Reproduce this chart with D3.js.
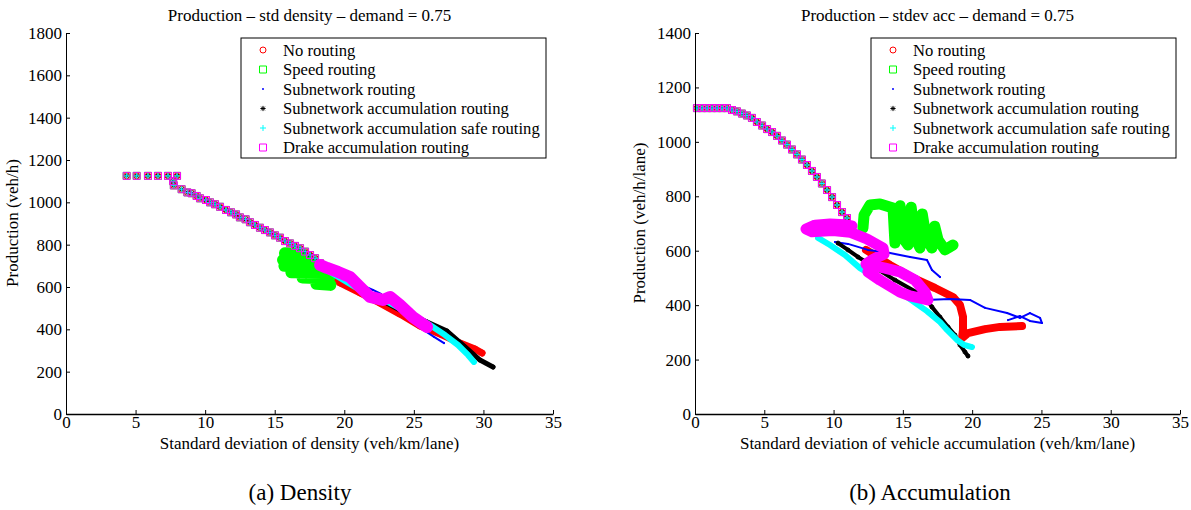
<!DOCTYPE html>
<html>
<head>
<meta charset="utf-8">
<script src="https://cdn.jsdelivr.net/npm/d3@7"></script>
<style>
body { margin: 0; background: #fff; }
</style>
</head>
<body>
<div id="chart"></div>
<script>
var seriesNames = ["No routing", "Speed routing", "Subnetwork routing",
    "Subnetwork accumulation routing", "Subnetwork accumulation safe routing",
    "Drake accumulation routing"];
var xTicks = [0, 5, 10, 15, 20, 25, 30, 35];
var denYTicks = [0, 200, 400, 600, 800, 1000, 1200, 1400, 1600, 1800];
var accYTicks = [0, 200, 400, 600, 800, 1000, 1200, 1400];

// (a) density: free-flow branch shared by every run
var denCommon = [[4.36,1125],[5.08,1125],[5.89,1125],[6.61,1125],[7.33,1125],[7.98,1125],
    [7.7,1100],[7.75,1080],[8.31,1062],[8.72,1047],[9.03,1043],[9.39,1030],[9.63,1019],
    [10.06,1011],[10.35,1000],[10.71,991],[11.07,979],[11.5,964],[11.86,953],[12.22,943],
    [12.5,929],[12.91,920],[13.22,906],[13.58,893],[13.94,880],[14.3,869],[14.66,858],
    [15.02,844],[15.38,833],[15.74,817],[16.1,806],[16.46,794],[16.82,783],[17.18,767],
    [17.54,751],[17.9,736],[18.26,712]];
var denNo = [[18.26,690],[19.69,619],[21.13,572],[22.57,524],[24.0,472],[25.44,416],
    [26.88,378],[28.32,335],[29.39,307],[29.9,288]];
var denSpeed = [[15.74,760],[16.9,752],[15.6,728],[17.3,725],[15.7,700],[17.9,700],
    [16.2,670],[18.6,668],[17.0,645],[18.9,640],[18.0,615],[19.0,610]];
var denSub = [[21.56,600],[22.06,586],[22.64,567],null,[25.8,392],[26.45,364],[27.17,335]];
var denSubAcc = [[18.97,671],[21.13,591],[24.0,491],[25.95,435],[27.38,392],[28.68,317],
    [29.75,255],[30.69,222]];
var denSafe = [[18.97,671],[21.13,586],[23.29,524],[25.3,454],[26.16,420],[27.24,373],
    [28.17,326],[28.89,279],[29.32,246]];
var denDrake = [[18.26,704],[18.76,690],[19.55,671],[20.41,647],[21.13,600],[21.85,553],
    [22.78,539],[23.29,553],[24.0,515],[24.94,458],[25.95,411]];

// (b) accumulation
var accCommon = [[0.14,1124],[0.51,1124],[0.87,1124],[1.23,1124],[1.59,1124],[1.95,1124],
    [2.31,1124],[2.67,1117],[3.03,1112],[3.39,1104],[3.75,1097],[4.11,1088],[4.47,1073],
    [4.84,1060],[5.2,1047],[5.56,1036],[5.92,1022],[6.28,1005],[6.64,990],[7.0,972],
    [7.36,954],[7.72,935],[8.08,915],[8.44,893],[8.8,871],[9.16,847],[9.53,823],[9.89,797],
    [10.25,768],[10.61,742],[10.97,720],[11.33,691]];
var accNo = [[12.34,603],[14.07,548],[15.73,500],[17.32,463],[18.62,430],[19.12,401],
    [19.34,357],[19.34,309],[19.27,279],[19.7,297],[20.93,312],[22.01,320],[23.6,323]];
var accSpeed = [[12.12,683],[12.2,731],[12.63,768],[13.35,772],[14.29,757],[14.43,628],
    [14.8,765],[15.1,640],[15.37,621],[15.6,760],[15.88,650],[16.24,610],[16.4,735],
    [16.67,650],[17.1,610],[17.3,690],[17.54,640],[18.04,603],[18.62,621]];
var accSub = [[10.1,632],[11.04,625],[12.48,603],[13.71,595],[15.52,577],[16.74,566],
    [17.1,529],[17.68,503],null,[16.6,419],[18.4,423],[19.84,419],[20.93,390],[22.52,371],
    [23.45,353],[24.17,371],[24.9,353],[25.04,334],[24.17,342],[23.45,360],[22.59,345]];
var accSubAcc = [[10.32,628],[11.04,603],[11.76,577],[12.34,559],[14.43,492],[16.6,430],
    [17.1,393],[17.68,356],[18.26,320],[18.76,290],[19.12,254],[19.48,228],[19.7,213]];
var accSafe = [[8.88,647],[9.74,621],[10.82,584],[11.91,536],[13.35,492],[14.79,448],
    [16.74,378],[17.68,338],[18.19,309],[18.91,272],[19.41,254],[19.99,246]];
var accDrake = [[11.33,691],[10.82,695],[9.74,698],[8.66,694],[8.01,680],[8.44,670],
    [9.96,674],[11.19,668],[12.41,643],[13.57,610],[13.64,588],[12.77,566],[12.34,551],
    [13.71,536],[14.79,522],[15.88,492],[16.6,448],[16.81,419],[15.52,434],[14.79,448],
    [13.35,492],[12.48,522]];

var colors = ["#ff0000", "#00ff00", "#0000ff", "#000000", "#00ffff", "#ff00ff"];
var markers = ["o", "s", ".", "*", "+", "s"];
var serif = "'Liberation Serif', 'Times New Roman', Times, serif";

var svg = d3.select("#chart").append("svg")
    .attr("width", 1191)
    .attr("height", 510)
    .style("font-family", serif);

function markerPath(type) {
    var s;
    if (type == "s") { s = 3.5; return "M" + -s + "," + -s + "H" + s + "V" + s + "H" + -s + "Z"; }
    if (type == "+") { s = 3; return "M" + -s + ",0H" + s + "M0," + -s + "V" + s; }
    if (type == "*") {
        s = 2.6; var d = s * 0.7;
        return "M" + -s + ",0H" + s + "M0," + -s + "V" + s +
            "M" + -d + "," + -d + "L" + d + "," + d + "M" + -d + "," + d + "L" + d + "," + -d;
    }
    return null;
}

function drawMarker(g, type, color, px, py) {
    if (type == "o") {
        g.append("circle").attr("cx", px).attr("cy", py).attr("r", 3)
            .attr("fill", "none").attr("stroke", color).attr("stroke-width", 1);
    } else if (type == ".") {
        g.append("circle").attr("cx", px).attr("cy", py).attr("r", 1)
            .attr("fill", color);
    } else {
        g.append("path").attr("d", markerPath(type))
            .attr("transform", "translate(" + px + "," + py + ")")
            .attr("fill", "none").attr("stroke", color).attr("stroke-width", 1);
    }
}

function addText(g, str, size) {
    return g.append("text").style("font-family", serif).attr("font-size", size).text(str);
}

function drawPanel(p) {
    var x = d3.scaleLinear().domain([0, 35]).range([p.left, p.right]);
    var y = d3.scaleLinear().domain([0, p.yMax]).range([414, 33]);
    var g = svg.append("g");

    var line = d3.line()
        .defined(function(d) { return d != null; })
        .x(function(d) { return x(d[0]); })
        .y(function(d) { return y(d[1]); });

    // series drawn in legend order, last on top
    p.tails.forEach(function(tail, i) {
        var sg = g.append("g");
        sg.append("path").datum(tail)
            .attr("d", line)
            .attr("fill", "none")
            .attr("stroke", colors[i])
            .attr("stroke-width", p.widths[i])
            .attr("stroke-linecap", "round")
            .attr("stroke-linejoin", "round");
        tail.forEach(function(d) {
            if (d) drawMarker(sg, markers[i], colors[i], x(d[0]), y(d[1]));
        });
        p.common.forEach(function(d) {
            drawMarker(sg, markers[i], colors[i], x(d[0]), y(d[1]));
        });
    });

    // axes
    var xa = g.append("g")
        .attr("transform", "translate(0,414)")
        .call(d3.axisBottom(x).tickValues(xTicks).tickFormat(d3.format("d"))
            .tickSizeInner(-4).tickSizeOuter(0).tickPadding(3));
    var ya = g.append("g")
        .attr("transform", "translate(" + p.left + ",0)")
        .call(d3.axisLeft(y).tickValues(p.yTicks).tickFormat(d3.format("d"))
            .tickSizeInner(-4).tickSizeOuter(0).tickPadding(4));
    [xa, ya].forEach(function(a) {
        a.attr("font-family", null).attr("font-size", 17);
        a.selectAll("text").style("font-family", serif).attr("fill", "#000");
        a.select(".domain").attr("stroke", "#000");
    });
    xa.selectAll("text").attr("dy", "0.62em");
    xa.select(".domain").attr("stroke-width", 1.6);

    var cx = (p.left + p.right) / 2;
    addText(g, p.title, 17).attr("x", cx).attr("y", 21).attr("text-anchor", "middle");
    addText(g, p.xLabel, 17).attr("x", cx).attr("y", 449).attr("text-anchor", "middle");
    addText(g, p.yLabel, 17)
        .attr("transform", "translate(" + p.yLabelX + ",223) rotate(-90)")
        .attr("text-anchor", "middle");
    addText(g, p.caption, 23).attr("x", p.captionX).attr("y", 500).attr("text-anchor", "middle");

    // legend
    var lg = g.append("g").attr("transform", "translate(" + p.legendX + ",38)");
    lg.append("rect").attr("width", 305).attr("height", 120)
        .attr("fill", "#fff").attr("stroke", "#000").attr("stroke-width", 1);
    seriesNames.forEach(function(name, i) {
        var ry = 12 + i * 19.5;
        drawMarker(lg, markers[i], colors[i], 22, ry);
        addText(lg, name, 16.6).attr("x", 42).attr("y", ry).attr("dy", "0.35em");
    });
}

drawPanel({
    left: 66, right: 553, yMax: 1800, yTicks: denYTicks,
    title: "Production \u2013 std density \u2013 demand = 0.75",
    xLabel: "Standard deviation of density (veh/km/lane)",
    yLabel: "Production (veh/h)", yLabelX: 18,
    caption: "(a)  Density", captionX: 300,
    legendX: 241,
    common: denCommon,
    tails: [denNo, denSpeed, denSub, denSubAcc, denSafe, denDrake],
    widths: [7, 12, 2, 5, 6, 12]
});

drawPanel({
    left: 695, right: 1180, yMax: 1400, yTicks: accYTicks,
    title: "Production \u2013 stdev acc \u2013 demand = 0.75",
    xLabel: "Standard deviation of vehicle accumulation (veh/km/lane)",
    yLabel: "Production (veh/h/lane)", yLabelX: 645,
    caption: "(b)  Accumulation", captionX: 930,
    legendX: 871,
    common: accCommon,
    tails: [accNo, accSpeed, accSub, accSubAcc, accSafe, accDrake],
    widths: [8, 11, 2, 4, 6, 11]
});
</script>
</body>
</html>
